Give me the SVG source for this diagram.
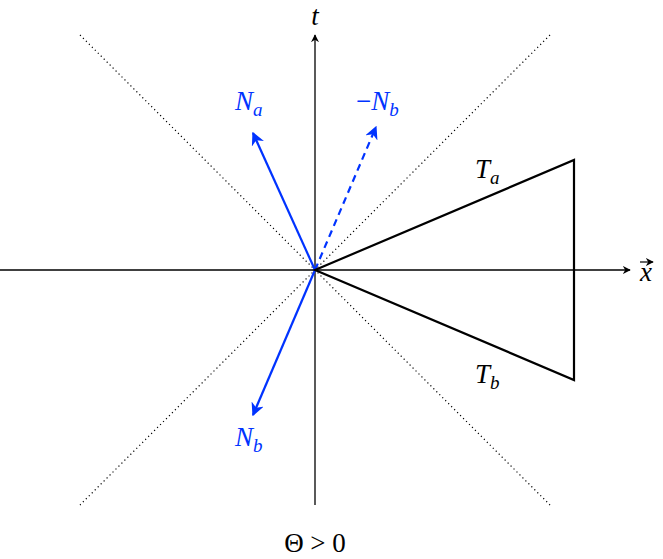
<svg xmlns="http://www.w3.org/2000/svg" width="663" height="559" viewBox="0 0 663 559">
<style>
.ax{stroke:#000;stroke-width:1.3;fill:none}
.dot{stroke:#000;stroke-width:1.2;stroke-dasharray:1.2 3;fill:none}
.bl{stroke:#0033ff;stroke-width:2.2;fill:none}
.t{font-family:"Liberation Serif",serif;font-style:italic;font-size:27px}
.r{font-style:normal}
.b{fill:#0033ff}
</style>
<defs>
<marker id="ak" viewBox="0 0 10 10" refX="9" refY="5" markerWidth="8" markerHeight="8" markerUnits="userSpaceOnUse" orient="auto"><path d="M0,0 L10,5 L0,10 L3,5 Z" fill="#000"/></marker>
<marker id="ab" viewBox="0 0 10 10" refX="9" refY="5" markerWidth="6" markerHeight="6" orient="auto"><path d="M0,0 L10,5 L0,10 L3,5 Z" fill="#0033ff"/></marker>
</defs>
<g id="connectors">
<line class="dot" x1="80" y1="35" x2="550" y2="505"/>
<line class="dot" x1="550" y1="35" x2="80" y2="505"/>
<line class="ax" x1="0" y1="270" x2="630" y2="270" marker-end="url(#ak)"/>
<line class="ax" x1="315" y1="505" x2="315" y2="35" marker-end="url(#ak)"/>
<line class="bl" x1="315" y1="270" x2="253" y2="133" marker-end="url(#ab)"/>
<line class="bl" x1="315" y1="270" x2="376" y2="127" stroke-dasharray="7 5" marker-end="url(#ab)"/>
<line class="bl" x1="315" y1="270" x2="253" y2="415" marker-end="url(#ab)"/>
</g>
<g id="triangle"><polygon points="315,270 574,160 574,380" fill="none" stroke="#000" stroke-width="2.2"/></g>
<g id="labels">
<text class="t" x="315" y="25" text-anchor="middle">t</text>
<text class="t" x="646" y="281" text-anchor="middle">x</text>
<line x1="640" y1="262" x2="653" y2="262" stroke="#000" stroke-width="1.2" marker-end="url(#ak)"/>
<text class="t b" x="235" y="110">N<tspan font-size="19" dy="6">a</tspan></text>
<text class="t b" x="356" y="110"><tspan class="r">−</tspan>N<tspan font-size="19" dy="6">b</tspan></text>
<text class="t b" x="235" y="446">N<tspan font-size="19" dy="6">b</tspan></text>
<text class="t" x="475" y="178">T<tspan font-size="19" dy="6">a</tspan></text>
<text class="t" x="475" y="383">T<tspan font-size="19" dy="6">b</tspan></text>
<text class="t r" x="315" y="552" text-anchor="middle">Θ &gt; 0</text>
</g>
</svg>
